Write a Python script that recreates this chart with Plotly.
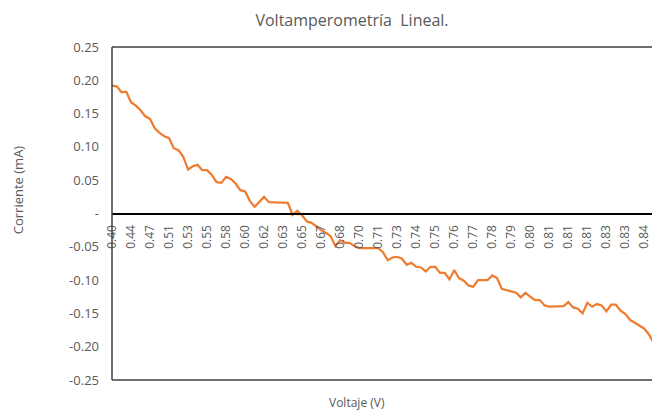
import plotly.graph_objects as go

corriente = [
    0.192, 0.191, 0.182, 0.183, 0.167, 0.162, 0.155, 0.146, 0.142, 0.128,
    0.121, 0.116, 0.113, 0.098, 0.095, 0.085, 0.066, 0.071, 0.073, 0.065,
    0.065, 0.058, 0.047, 0.046, 0.055, 0.052, 0.045, 0.035, 0.033, 0.019,
    0.010, 0.017, 0.025, 0.017, 0.017, 0.017, 0.017, 0.016, -0.002, 0.004,
    -0.003, -0.012, -0.014, -0.020, -0.025, -0.029, -0.034, -0.049, -0.040, -0.044,
    -0.044, -0.049, -0.052, -0.052, -0.052, -0.052, -0.052, -0.058, -0.070, -0.066,
    -0.065, -0.068, -0.077, -0.074, -0.080, -0.081, -0.087, -0.080, -0.080, -0.089,
    -0.089, -0.099, -0.085, -0.097, -0.101, -0.108, -0.110, -0.100, -0.100, -0.100,
    -0.093, -0.097, -0.113, -0.115, -0.118, -0.119, -0.126, -0.119, -0.125, -0.130,
    -0.130, -0.138, -0.140, -0.140, -0.140, -0.139, -0.133, -0.141, -0.143, -0.150,
    -0.134, -0.140, -0.136, -0.138, -0.147, -0.137, -0.137, -0.146, -0.151, -0.160,
    -0.164, -0.169, -0.173, -0.182, -0.195,
]

etiquetas_voltaje = [
    "0.40", "0.44", "0.47", "0.51", "0.53", "0.55", "0.58", "0.60", "0.62", "0.63",
    "0.65", "0.67", "0.68", "0.70", "0.71", "0.73", "0.74", "0.75", "0.76", "0.77",
    "0.78", "0.79", "0.80", "0.81", "0.81", "0.81", "0.83", "0.83", "0.84",
]
paso_etiqueta = 4  # one voltage label every 4 readings

y_ticks = [0.25, 0.20, 0.15, 0.10, 0.05, 0.0, -0.05, -0.10, -0.15, -0.20, -0.25]
y_text = ["0.25", "0.20", "0.15", "0.10", "0.05", "-", "-0.05", "-0.10", "-0.15", "-0.20", "-0.25"]

GRIS = "#595959"
FUENTE = "Open Sans, sans-serif"

indices = list(range(len(corriente)))

fig = go.Figure()
fig.add_trace(go.Scatter(x=indices, y=corriente, mode="lines",
    line=dict(color="#ED7D31", width=2.25), showlegend=False))

# plot-area border (right side is cut off in the original)
borde = dict(type="line", xref="paper", yref="paper",
             line=dict(color="#404040", width=1.5))
fig.add_shape(x0=0, x1=0, y0=0, y1=1, **borde)
fig.add_shape(x0=0, x1=1.01, y0=1, y1=1, **borde)
fig.add_shape(x0=0, x1=1.01, y0=0, y1=0, **borde)

# page body has an 8px margin: keep the figure inside the window (no scrollbars)
fig.update_layout(
    width=644, height=403,
    margin=dict(l=104, r=0, t=39, b=31),
    plot_bgcolor="white", paper_bgcolor="white",
    font=dict(family=FUENTE, color=GRIS),
    title=dict(text="Voltamperometría  Lineal.", x=344 / 644, xref="container",
               xanchor="center", y=1 - 12 / 403, yref="container",
               yanchor="middle", font=dict(size=16, color=GRIS)),
    xaxis=dict(range=[0, 113.6], anchor="free", position=0.5,
               tickvals=indices[::paso_etiqueta], ticktext=etiquetas_voltaje,
               tickangle=-90, tickfont=dict(size=12, color=GRIS),
               ticklabeloverflow="allow",
               showline=True, linecolor="black", linewidth=1.5,
               showgrid=False, zeroline=False, ticks="",
               ticklabelstandoff=6, automargin=False),
    yaxis=dict(range=[-0.25, 0.25], tickvals=y_ticks, ticktext=y_text,
               tickfont=dict(size=13, color=GRIS),
               showgrid=False, zeroline=False, showline=False, ticks="",
               ticklabelstandoff=12, automargin=False),
    annotations=[
        dict(text="Voltaje (V)", x=0.454, xref="paper", xanchor="center",
             y=-0.069, yref="paper", yanchor="middle", showarrow=False,
             font=dict(size=12, color=GRIS)),
        dict(text="Corriente (mA)", x=-0.174, xref="paper", xanchor="center",
             y=0.57, yref="paper", yanchor="middle",
             textangle=-90, showarrow=False, font=dict(size=13, color=GRIS)),
    ],
)

fig.write_html("out.html")
